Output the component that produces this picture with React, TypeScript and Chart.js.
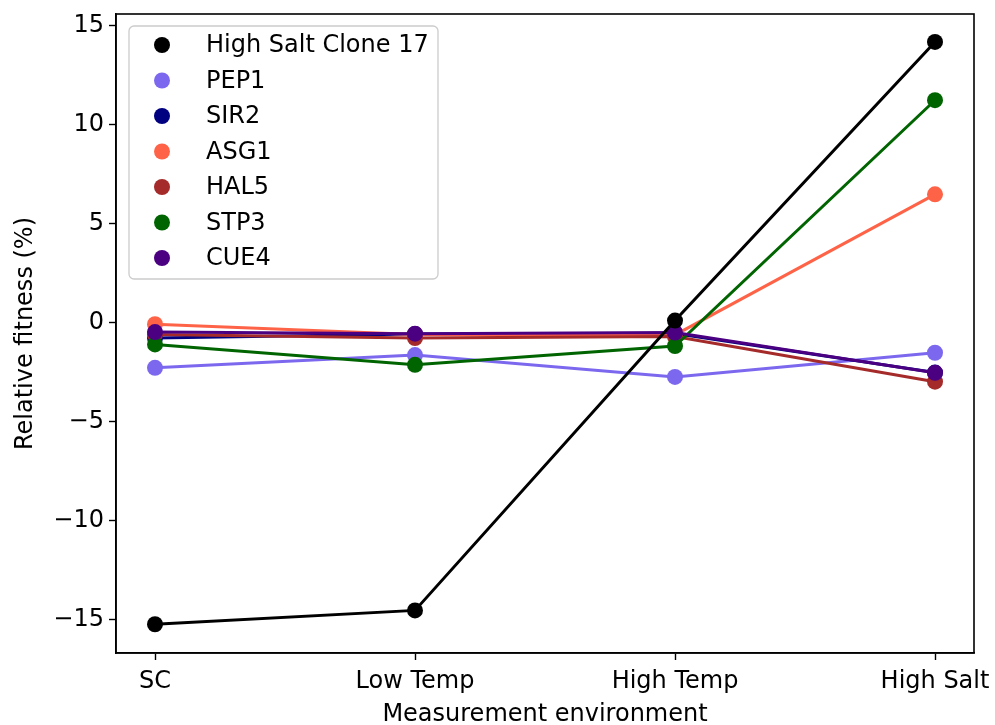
import React, { useEffect, useRef } from "react";
import { Chart, registerables } from "chart.js";

Chart.register(...registerables);

const categories = ["SC", "Low Temp", "High Temp", "High Salt"];
const yTicks = [-15, -10, -5, 0, 5, 10, 15];

const seriesNames = ["High Salt Clone 17", "PEP1", "SIR2", "ASG1", "HAL5", "STP3", "CUE4"];
const seriesColors = ["#000000", "#7B68EE", "#000080", "#FF6347", "#A52A2A", "#006400", "#4B0082"];
const drawOrder = [0, 6, 5, 4, 3, 2, 1];

const clone17 = [-15.22, -14.52, 0.1, 14.16];
const pep1 = [-2.28, -1.64, -2.74, -1.52];
const sir2 = [-0.78, -0.58, -0.55, -2.52];
const asg1 = [-0.08, -0.6, -0.62, 6.47];
const hal5 = [-0.6, -0.78, -0.7, -2.98];
const stp3 = [-1.1, -2.13, -1.18, 11.22];
const cue4 = [-0.48, -0.56, -0.5, -2.53];

const seriesValues = [clone17, pep1, sir2, asg1, hal5, stp3, cue4];

const FONT = "'DejaVu Sans', sans-serif";
const FS = 24;

const framePlugin = {
  id: "frameAndLegend",
  afterDatasetsDraw(chart: any) {
    const { ctx, chartArea } = chart;
    ctx.save();
    ctx.strokeStyle = "#000";
    ctx.lineWidth = 1.6;
    ctx.strokeRect(chartArea.left, chartArea.top, chartArea.right - chartArea.left, chartArea.bottom - chartArea.top);

    // legend
    const bx = 129, by = 26, bw = 309, bh = 253, r = 5;
    ctx.beginPath();
    ctx.moveTo(bx + r, by);
    ctx.arcTo(bx + bw, by, bx + bw, by + bh, r);
    ctx.arcTo(bx + bw, by + bh, bx, by + bh, r);
    ctx.arcTo(bx, by + bh, bx, by, r);
    ctx.arcTo(bx, by, bx + bw, by, r);
    ctx.closePath();
    ctx.fillStyle = "rgba(255,255,255,0.8)";
    ctx.fill();
    ctx.strokeStyle = "#cccccc";
    ctx.lineWidth = 1.3;
    ctx.stroke();
    ctx.font = `${FS}px ${FONT}`;
    ctx.textBaseline = "middle";
    ctx.textAlign = "left";
    chart.data.datasets.forEach((ds: any, i: number) => {
      const y = 45 + i * 35.5;
      ctx.beginPath();
      ctx.arc(162, y, 8, 0, Math.PI * 2);
      ctx.fillStyle = ds.pointBackgroundColor;
      ctx.fill();
      ctx.fillStyle = "#000";
      ctx.fillText(ds.label, 206, y + 1);
    });
    ctx.restore();
  },
};

export default function App() {
  const ref = useRef<HTMLCanvasElement>(null);
  useEffect(() => {
    if (!ref.current) return;
    const datasets = seriesNames.map((name, i) => ({
      label: name,
      data: seriesValues[i].map((v, j) => ({ x: j, y: v })),
      borderColor: seriesColors[i],
      backgroundColor: seriesColors[i],
      pointBackgroundColor: seriesColors[i],
      pointBorderWidth: 0,
      pointRadius: 8,
      borderWidth: 3,
      tension: 0,
      order: drawOrder[i],
    }));
    const chart = new Chart(ref.current, {
      type: "line",
      data: { datasets },
      options: {
        animation: false,
        responsive: false,
        layout: { padding: { left: 0, top: 14, right: 21, bottom: 0 } },
        plugins: { legend: { display: false }, tooltip: { enabled: false } },
        scales: {
          x: {
            type: "linear",
            min: -0.15,
            max: 3.15,
            afterBuildTicks: (s: any) => {
              s.ticks = categories.map((_, i) => ({ value: i }));
            },
            afterFit: (s: any) => {
              s.height = 72;
              s.paddingLeft = 0;
              s.paddingRight = 0;
            },
            ticks: {
              callback: (v: any) => categories[v] ?? "",
              color: "#000",
              font: { family: FONT, size: FS },
              padding: 7,
              maxRotation: 0,
              autoSkip: false,
            },
            grid: { drawOnChartArea: false, drawTicks: true, tickLength: 7, color: "#000", tickWidth: 1.4 },
            border: { display: true, color: "#000", width: 1.6 },
            title: {
              display: true,
              text: "Measurement environment",
              color: "#000",
              font: { family: FONT, size: FS },
              padding: { top: 0, bottom: -4 },
            },
          },
          y: {
            type: "linear",
            min: -16.67,
            max: 15.57,
            afterBuildTicks: (s: any) => {
              s.ticks = yTicks.map((v) => ({ value: v }));
            },
            afterFit: (s: any) => {
              s.width = 116;
              s.paddingTop = 0;
              s.paddingBottom = 0;
            },
            ticks: {
              callback: (v: any) => String(v).replace("-", "\u2212"),
              color: "#000",
              font: { family: FONT, size: FS },
              padding: 5,
            },
            grid: { drawOnChartArea: false, drawTicks: true, tickLength: 7, color: "#000", tickWidth: 1.4 },
            border: { display: true, color: "#000", width: 1.6 },
            title: {
              display: true,
              text: "Relative fitness (%)",
              color: "#000",
              font: { family: FONT, size: FS },
              padding: { top: 11, bottom: 0 },
            },
          },
        },
      },
      plugins: [framePlugin],
    });
    return () => chart.destroy();
  }, []);
  return (
    <div style={{ position: "absolute", left: 0, top: 0, width: 995, height: 725, background: "#fff" }}>
      <canvas ref={ref} width={995} height={725} style={{ display: "block" }} />
    </div>
  );
}
